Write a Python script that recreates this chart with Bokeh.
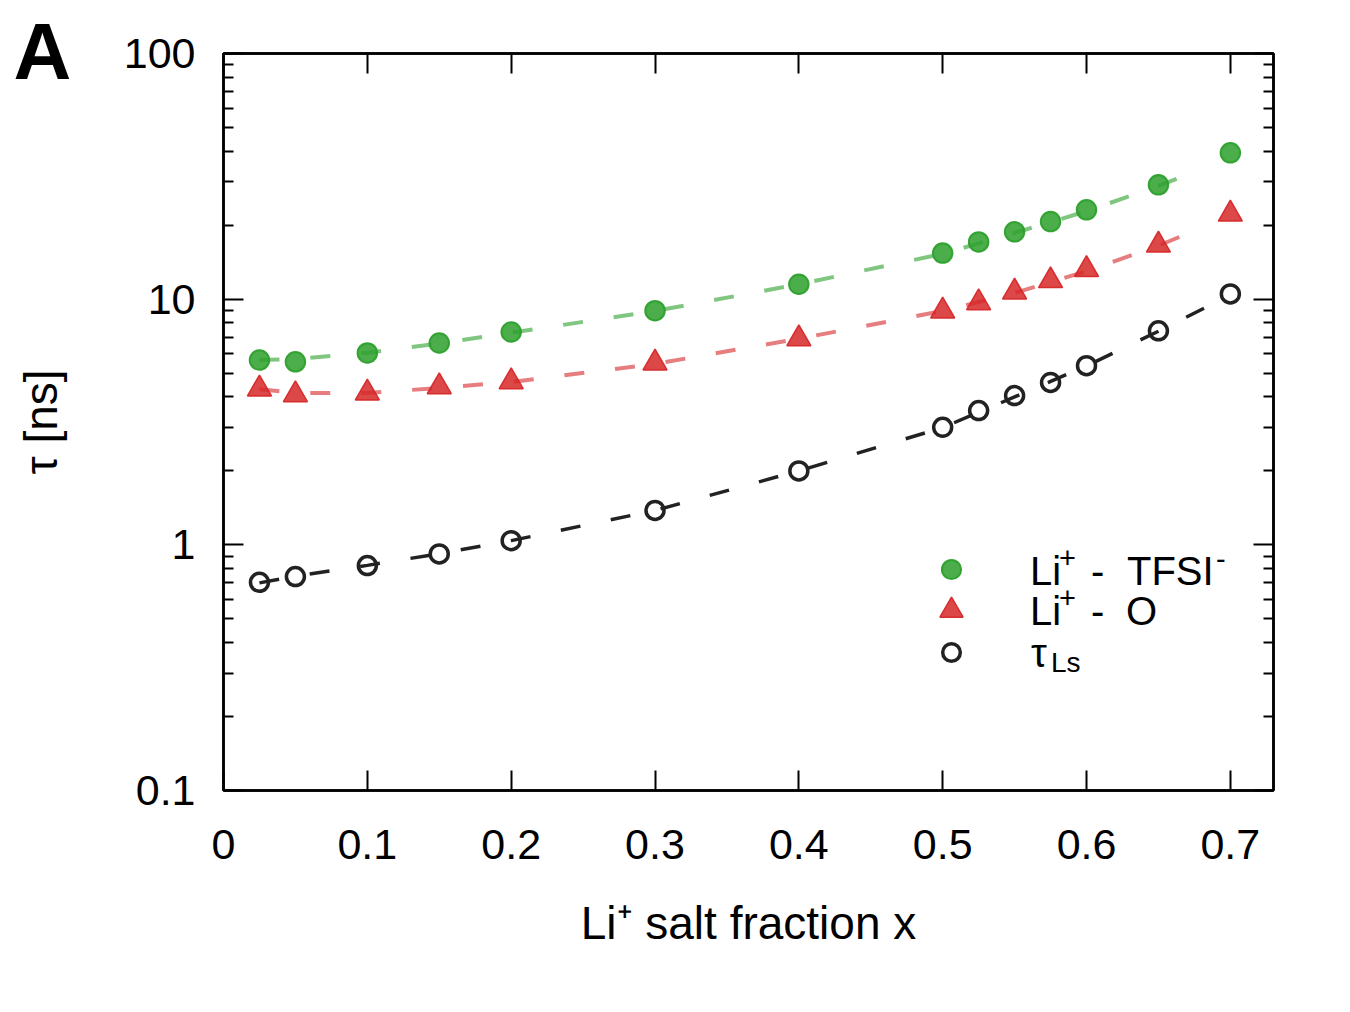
from bokeh.plotting import figure
from bokeh.models import (Range1d, LinearAxis, LogAxis, FixedTicker, CustomJSTickFormatter,
                          Label, Legend, LegendItem, Title)
from bokeh.embed import file_html
from bokeh.resources import INLINE

# ---------------- data ----------------
x_frac = [0.025, 0.05, 0.1, 0.15, 0.2, 0.3, 0.4, 0.5, 0.525, 0.55, 0.575, 0.6, 0.65, 0.7]
tau_tfsi = [5.65, 5.56, 6.04, 6.63, 7.35, 8.98, 11.5, 15.4, 17.1, 18.8, 20.7, 23.1, 29.2, 39.4]
tau_o = [4.31, 4.08, 4.15, 4.40, 4.61, 5.50, 6.90, 8.95, 9.67, 10.7, 11.9, 13.2, 16.6, 22.2]
tau_ls = [0.704, 0.743, 0.823, 0.918, 1.04, 1.38, 2.00, 3.01, 3.52, 4.05, 4.58, 5.36, 7.43, 10.5]

x_fit = [0.025, 0.05, 0.1, 0.15, 0.2, 0.3, 0.4, 0.5, 0.55, 0.6, 0.65, 0.675]
fit_tfsi = [5.65, 5.7, 6.05, 6.6, 7.3, 8.95, 11.5, 15.3, 18.6, 22.8, 28.9, 33.0]
fit_o = [4.3, 4.15, 4.15, 4.35, 4.6, 5.45, 6.9, 8.95, 10.6, 13.0, 16.5, 19.0]
x_fit_ls = [0.025, 0.05, 0.1, 0.15, 0.2, 0.3, 0.4, 0.5, 0.55, 0.6, 0.65, 0.7]
fit_ls = [0.70, 0.745, 0.825, 0.92, 1.04, 1.38, 2.0, 3.0, 4.0, 5.35, 7.4, 10.4]

x_ticks = [0, 0.1, 0.2, 0.3, 0.4, 0.5, 0.6, 0.7]
x_tick_labels = ["0", "0.1", "0.2", "0.3", "0.4", "0.5", "0.6", "0.7"]
y_ticks = [0.1, 1, 10, 100]
y_tick_labels = ["0.1", "1", "10", "100"]
y_minor = [m * d for d in (0.1, 1, 10) for m in range(2, 10)]

FONT = "Liberation Sans"
GREEN = "#2ca02c"
RED = "#d62728"
BLACK = "#222222"

p = figure(width=1320, height=1000, x_range=Range1d(0, 0.73), y_range=Range1d(0.1, 100),
           y_axis_type="log", output_backend="svg", toolbar_location=None,
           min_border_left=223, min_border_right=47, min_border_top=53, min_border_bottom=210,
           background_fill_color="white", border_fill_color="white")
p.xgrid.visible = False
p.ygrid.visible = False
p.outline_line_color = "black"
p.outline_line_width = 2.5

def fmt(tv, tl, log=False):
    dist = "Math.abs(Math.log(tv[i]) - Math.log(tick))" if log else "Math.abs(tv[i] - tick)"
    return CustomJSTickFormatter(args=dict(tv=tv, tl=tl), code=f"""
        let best = 0, bd = Infinity;
        for (let i = 0; i < tv.length; i++) {{
            const d = {dist};
            if (d < bd) {{ bd = d; best = i; }}
        }}
        return tl[best];
    """)

blank = CustomJSTickFormatter(code="return '';")

def style_axis(ax, minor=False):
    ax.axis_line_color = "black"
    ax.axis_line_width = 2.5
    ax.major_tick_line_color = "black"
    ax.major_tick_line_width = 2
    ax.major_tick_in = 20
    ax.major_tick_out = 0
    if minor:
        ax.minor_tick_line_color = "black"
        ax.minor_tick_line_width = 2
        ax.minor_tick_in = 10
        ax.minor_tick_out = 0
    else:
        ax.minor_tick_line_color = None
    ax.major_label_text_font = FONT
    ax.major_label_text_font_size = "43px"
    ax.major_label_text_color = "black"

xb = p.xaxis[0]
xb.ticker = FixedTicker(ticks=x_ticks)
xb.formatter = fmt(x_ticks, x_tick_labels)
style_axis(xb)
xb.major_label_standoff = 39
xb.axis_label = "Li⁺ salt fraction x"
xb.axis_label_text_font = FONT
xb.axis_label_text_font_size = "46px"
xb.axis_label_text_font_style = "normal"
xb.axis_label_text_color = "black"
xb.axis_label_standoff = 35

yl = p.yaxis[0]
yl.ticker = FixedTicker(ticks=y_ticks, minor_ticks=y_minor)
yl.formatter = fmt(y_ticks, y_tick_labels, log=True)
style_axis(yl, minor=True)
yl.major_label_standoff = 28
yl.axis_label = "τ [ns]"
yl.axis_label_text_font = FONT
yl.axis_label_text_font_size = "46px"
yl.axis_label_text_font_style = "normal"
yl.axis_label_text_color = "black"
yl.axis_label_standoff = 54

xtop = LinearAxis(ticker=FixedTicker(ticks=x_ticks), formatter=blank)
style_axis(xtop)
xtop.major_label_text_font_size = "1px"
xtop.major_label_standoff = 0
p.add_layout(xtop, "above")

yright = LogAxis(ticker=FixedTicker(ticks=y_ticks, minor_ticks=y_minor), formatter=blank)
style_axis(yright, minor=True)
yright.major_label_text_font_size = "1px"
yright.major_label_standoff = 0
p.add_layout(yright, "right")

# panel letter as a title shifted to the top-left corner
p.add_layout(Title(text="A", align="left", vertical_align="top", offset=-210, standoff=-88,
                   text_font=FONT, text_font_size="80px", text_font_style="bold",
                   text_color="black"), "above")

# ---------------- fit curves ----------------
DASH = "20 31"
p.line(x_fit, fit_tfsi, line_color=GREEN, line_alpha=0.6, line_width=4, line_dash=DASH)
p.line(x_fit, fit_o, line_color=RED, line_alpha=0.6, line_width=4, line_dash=DASH)
p.line(x_fit_ls, fit_ls, line_color=BLACK, line_alpha=1.0, line_width=3.5, line_dash=DASH)

# ---------------- data markers ----------------
r_g = p.scatter(x_frac, tau_tfsi, marker="circle", size=19.5, fill_color=GREEN, fill_alpha=0.85,
                line_color=GREEN, line_alpha=0.95, line_width=2)
r_r = p.scatter(x_frac, tau_o, marker="triangle", size=24, fill_color=RED, fill_alpha=0.85,
                line_color=RED, line_alpha=0.95, line_width=1.5)
r_k = p.scatter(x_frac, tau_ls, marker="circle", size=18, fill_color=None,
                line_color=BLACK, line_width=3.5)

# legend keys: one single-item legend per row so each key gets its own size
def key(renderer, box, center_y):
    lg = Legend(items=[LegendItem(label=" ", renderers=[renderer])],
                location=(728 - box // 2, 790 - center_y - box // 2),
                glyph_width=box, glyph_height=box, spacing=0,
                padding=0, margin=0, border_line_color=None, background_fill_alpha=0,
                label_text_font_size="8px", label_standoff=0, label_height=box, label_width=1)
    p.add_layout(lg)

key(r_g, 48, 569)
key(r_r, 58, 610)
key(r_k, 44, 652)

# ---------------- legend texts ----------------
LIFT = 13
def add_text(x, y, text, size, dx=0, dy=0):
    p.add_layout(Label(x=x, y=y, x_offset=dx, y_offset=dy + LIFT, text=text,
                       text_font=FONT, text_font_size=f"{size}px",
                       text_color="black", text_align="left", text_baseline="alphabetic"))

lx = 0.5607
row1, row2, row3 = 0.6918, 0.4768, 0.3225
add_text(lx, row1, "Li", 40)
add_text(lx, row1, "+", 29, dx=29, dy=13)
add_text(lx, row1, "-", 40, dx=61)
add_text(lx, row1, "TFSI", 40, dx=97)
add_text(lx, row1, "-", 29, dx=186, dy=12)
add_text(lx, row2, "Li", 40)
add_text(lx, row2, "+", 29, dx=29, dy=13)
add_text(lx, row2, "-", 40, dx=61)
add_text(lx, row2, "O", 40, dx=96)
add_text(lx, row3, "τ", 40, dx=1)
add_text(lx, row3, "Ls", 28, dx=21, dy=-10)

open("out.html", "w").write(file_html(p, INLINE))
